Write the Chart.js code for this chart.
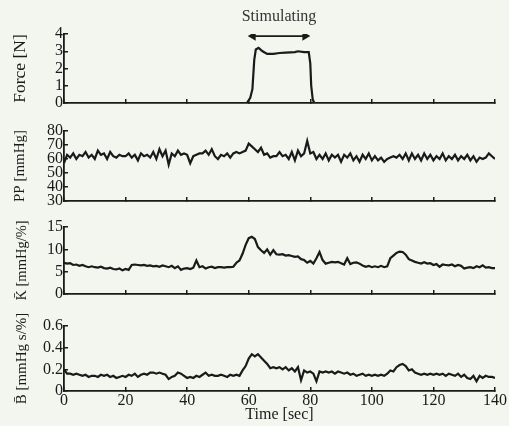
<!DOCTYPE html>
<html lang="en">
<head>
  <meta charset="UTF-8" />
  <title>Stimulation traces</title>
  <style>
    body {
      margin: 0;
      background-color: #f3f5ef;
      overflow: hidden;
    }
    .panel {
      position: absolute;
      left: 0;
    }
  </style>
</head>
<body>
  <!-- panels overlap a little so the rotated axis titles are not cut off -->
  <canvas id="forceChart" class="panel" width="509" height="115" style="top:2px"></canvas>
  <canvas id="ppChart" class="panel" width="509" height="108" style="top:107px"></canvas>
  <canvas id="kChart" class="panel" width="509" height="105" style="top:205px"></canvas>
  <canvas id="bChart" class="panel" width="509" height="128" style="top:298px"></canvas>

  <script src="https://cdn.jsdelivr.net/npm/chart.js"></script>
  <script>
    // time axis (sec), ticks every 20 s
    const timeMin = 0;
    const timeMax = 140;
    const timeStep = 20;

    // force trace
    const forceTime = [0, 30, 58, 59.4, 60.5, 61.2, 61.8, 62.3, 63.2, 64.5, 66, 68, 70, 72, 75, 76, 78, 79.5, 80, 80.3, 80.8, 81.3, 100, 140];
    const forceN    = [0, 0, 0, 0, 0.3, 0.8, 2.5, 3.1, 3.2, 3.0, 2.85, 2.85, 2.9, 2.92, 2.95, 3.0, 2.95, 2.95, 2.3, 1.0, 0.2, 0, 0, 0];

    // stimulation marker
    const stimSpan = [61.4, 78.3];
    const stimLabel = "Stimulating";

    // 1 s samples, t = 0 .. 140
    const ppValues = [
      57, 63, 61, 64, 60, 63, 62, 65, 61, 63, 60, 66, 63, 64, 60, 65, 62, 61, 63, 62, 62,
      64, 61, 63, 59, 64, 62, 63, 61, 65, 60, 67, 62, 66, 56, 64, 62, 66, 63, 64, 63,
      57, 62, 63, 64, 64, 66, 63, 67, 62, 60, 63, 62, 64, 61, 64, 65, 64, 65, 66, 71,
      69, 67, 65, 68, 63, 64, 61, 62, 62, 65, 62, 63, 60, 65, 59, 66, 62, 64, 73, 64,
      65, 60, 63, 60, 64, 59, 63, 61, 63, 58, 63, 61, 64, 59, 62, 58, 63, 60, 64, 59,
      62, 59, 61, 58, 60, 61, 62, 61, 63, 60, 64, 59, 64, 60, 63, 59, 64, 60, 63, 59,
      62, 60, 64, 59, 62, 60, 63, 59, 62, 60, 63, 59, 62, 58, 61, 60, 61, 64, 62, 60
    ];
    const kValues = [
      7.0, 6.8, 6.9, 6.5, 6.6, 6.3, 6.5, 6.2, 6.0, 6.2, 6.0, 5.9, 6.1, 5.8, 5.7, 5.9, 5.6, 5.5, 5.7, 5.3, 5.6,
      5.4, 6.5, 6.6, 6.5, 6.4, 6.5, 6.3, 6.4, 6.2, 6.3, 6.1, 6.4, 6.2, 6.0, 6.3, 5.8, 6.2, 5.4, 5.7, 5.8,
      5.6, 5.9, 7.5, 6.0, 6.2, 5.7, 6.0, 6.1, 5.8, 6.0, 6.0, 5.9, 6.0, 6.0, 6.1, 7.0, 7.5, 9.0, 11.0, 12.5,
      12.8, 12.3, 10.5, 9.8, 9.2, 10.0, 8.8, 9.8, 8.9, 8.8, 8.9, 8.6, 8.7, 8.5, 8.3, 8.4, 7.8, 7.6, 7.0, 7.4,
      6.8, 8.0, 9.4, 7.6, 6.8, 7.0, 7.2, 7.1, 7.2, 6.9, 6.6, 8.0, 6.7, 7.0, 7.1, 6.8, 6.4, 6.1, 6.3, 6.0,
      6.2, 6.0, 6.3, 6.0, 6.2, 8.0, 8.6, 9.2, 9.5, 9.4, 8.8, 7.8, 7.5, 7.2, 7.0, 6.8, 7.1, 6.8, 6.9, 6.5,
      6.7, 6.1, 6.6, 6.5, 6.4, 6.6, 6.2, 6.5, 6.3, 5.7, 5.9, 6.0, 5.8, 6.2, 6.0, 6.4, 5.9, 6.0, 5.8, 5.8
    ];
    const bValues = [
      0.20, 0.16, 0.16, 0.15, 0.16, 0.15, 0.14, 0.15, 0.13, 0.14, 0.14, 0.13, 0.15, 0.14, 0.15, 0.13, 0.14, 0.12, 0.13, 0.14, 0.13,
      0.15, 0.14, 0.16, 0.13, 0.15, 0.16, 0.15, 0.17, 0.17, 0.16, 0.17, 0.16, 0.15, 0.11, 0.13, 0.14, 0.17, 0.16, 0.14, 0.12,
      0.13, 0.12, 0.14, 0.13, 0.15, 0.17, 0.14, 0.15, 0.14, 0.14, 0.15, 0.14, 0.13, 0.15, 0.14, 0.15, 0.14, 0.19, 0.23, 0.30,
      0.34, 0.32, 0.34, 0.31, 0.28, 0.25, 0.21, 0.22, 0.21, 0.22, 0.20, 0.22, 0.19, 0.21, 0.18, 0.22, 0.10, 0.19, 0.17, 0.18,
      0.16, 0.09, 0.18, 0.17, 0.18, 0.17, 0.18, 0.16, 0.18, 0.17, 0.16, 0.17, 0.15, 0.16, 0.14, 0.15, 0.16, 0.14, 0.15, 0.14,
      0.15, 0.14, 0.15, 0.14, 0.16, 0.19, 0.18, 0.22, 0.24, 0.25, 0.23, 0.19, 0.20, 0.17, 0.16, 0.15, 0.16, 0.15, 0.16, 0.15,
      0.16, 0.15, 0.16, 0.14, 0.16, 0.15, 0.14, 0.16, 0.13, 0.15, 0.12, 0.11, 0.14, 0.09, 0.14, 0.12, 0.14, 0.13, 0.13, 0.12
    ];

    const ink = "#1a1a1a";
    const serif = "'Liberation Serif', 'Times New Roman', serif";

    function toPoints(xs, ys) {
      return ys.map((v, i) => ({ x: xs[i], y: v }));
    }
    function perSecond(ys) {
      return ys.map((v, i) => ({ x: timeMin + i, y: v }));
    }

    // writes the "Stimulating" label above the arrow
    const stimText = {
      id: "stimText",
      afterDraw(chart) {
        const xs = chart.scales.x;
        const ctx = chart.ctx;
        ctx.save();
        ctx.font = "16px " + serif;
        ctx.fillStyle = "#333";
        ctx.textAlign = "center";
        ctx.textBaseline = "middle";
        ctx.fillText(stimLabel, xs.getPixelForValue((stimSpan[0] + stimSpan[1]) / 2), 15);
        ctx.restore();
      }
    };

    function makePanel(id, cfg) {
      const datasets = [{
        data: cfg.points,
        borderColor: ink,
        borderWidth: 2.2,
        pointRadius: 0,
        tension: 0
      }].concat(cfg.extra || []);

      return new Chart(document.getElementById(id), {
        type: "line",
        data: { datasets: datasets },
        plugins: cfg.plugins || [],
        options: {
          responsive: false,
          animation: false,
          layout: { padding: { top: cfg.top, left: 0, right: 14, bottom: cfg.bottom } },
          plugins: { legend: { display: false }, tooltip: { enabled: false } },
          scales: {
            x: {
              type: "linear",
              min: timeMin,
              max: timeMax,
              ticks: {
                display: cfg.showTime,
                stepSize: timeStep,
                padding: 4,
                color: ink,
                font: { family: serif, size: 16 }
              },
              grid: { drawOnChartArea: false, drawTicks: true, tickLength: -4, color: ink, lineWidth: 1.5 },
              border: { display: true, color: ink, width: 1.8 },
              title: {
                display: cfg.showTime,
                text: "Time [sec]",
                color: ink,
                font: { family: serif, size: 16 },
                padding: { top: 0, bottom: 2 }
              },
              afterFit(s) {
                s.height = cfg.xHeight;
                s.paddingLeft = 0;
                s.paddingRight = 0;
              }
            },
            y: {
              min: cfg.min,
              max: cfg.max,
              ticks: {
                stepSize: cfg.step,
                autoSkip: false,
                padding: 5,
                color: ink,
                font: { family: serif, size: 16 },
                callback: cfg.fmt
              },
              grid: { drawOnChartArea: false, drawTicks: true, tickLength: -4, color: ink, lineWidth: 1.5 },
              border: { display: true, color: ink, width: 1.8 },
              title: {
                display: true,
                text: cfg.label,
                color: ink,
                font: { family: serif, size: cfg.labelSize || 15 },
                padding: { top: cfg.labelPad || 11, bottom: 0 }
              },
              afterFit(s) {
                s.width = 64;
                s.paddingTop = 0;
                s.paddingBottom = 0;
              }
            }
          }
        }
      });
    }

    makePanel("forceChart", {
      points: toPoints(forceTime, forceN),
      extra: [{
        data: toPoints(stimSpan, [3.88, 3.88]),
        borderColor: ink,
        backgroundColor: ink,
        borderWidth: 1.8,
        pointStyle: "triangle",
        pointRadius: 3.5,
        pointRotation: [-90, 90],
        tension: 0
      }],
      plugins: [stimText],
      min: 0, max: 4, step: 1,
      label: "Force [N]",
      labelSize: 17.5,
      labelPad: 10,
      top: 32, bottom: 12, xHeight: 2, showTime: false
    });

    makePanel("ppChart", {
      points: perSecond(ppValues),
      min: 30, max: 80, step: 10,
      label: "PP [mmHg]",
      top: 24, bottom: 12, xHeight: 2, showTime: false
    });

    makePanel("kChart", {
      points: perSecond(kValues),
      min: 0, max: 15, step: 5,
      label: "K\u0304 [mmHg/%]",
      labelSize: 14.5,
      labelPad: 13,
      top: 22, bottom: 14, xHeight: 2, showTime: false
    });

    makePanel("bChart", {
      points: perSecond(bValues),
      min: 0, max: 0.6, step: 0.2,
      fmt: v => (v === 0 ? "0" : v.toFixed(1)),
      label: "B\u0304 [mmHg s/%]",
      labelPad: 13,
      top: 28, bottom: 0, xHeight: 35, showTime: true
    });
  </script>
</body>
</html>
